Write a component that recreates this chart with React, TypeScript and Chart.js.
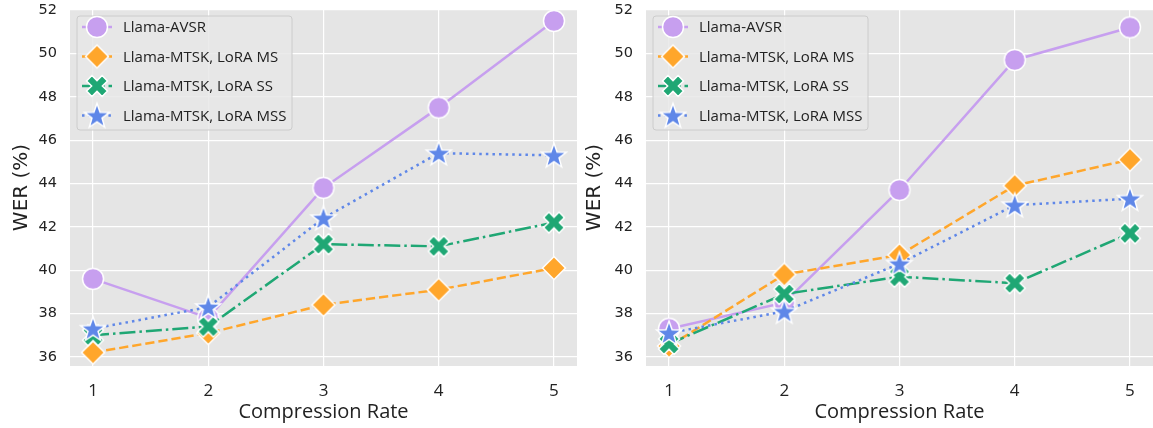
import React, { useEffect, useRef } from "react";
import { Chart, registerables } from "chart.js";
Chart.register(...registerables);

const compressionRates = [1, 2, 3, 4, 5];
const yTickValues = [36, 38, 40, 42, 44, 46, 48, 50, 52];
const seriesNames = [
  "Llama-AVSR",
  "Llama-MTSK, LoRA MS",
  "Llama-MTSK, LoRA SS",
  "Llama-MTSK, LoRA MSS",
];
const seriesColors = ["#c79fef", "#ffa62b", "#1fa774", "#5f87e8"];

const leftAVSR = [39.6, 37.8, 43.8, 47.5, 51.5];
const leftMS = [36.2, 37.1, 38.4, 39.1, 40.1];
const leftSS = [37.0, 37.4, 41.2, 41.1, 42.2];
const leftMSS = [37.3, 38.3, 42.4, 45.4, 45.3];

const rightAVSR = [37.3, 38.5, 43.7, 49.7, 51.2];
const rightMS = [36.5, 39.8, 40.7, 43.9, 45.1];
const rightSS = [36.6, 38.9, 39.7, 39.4, 41.7];
const rightMSS = [37.1, 38.1, 40.3, 43.0, 43.3];

const markerKinds = ["circle", "diamond", "x", "star"];
const dashes: number[][] = [[], [9.25, 4], [16, 4, 2.5, 4], [2.5, 4.1]];

const LABEL_FONT = "'Open Sans', 'DejaVu Sans', sans-serif";
const NUM_FONT = "'DejaVu Sans', sans-serif";

function makeMarker(kind: string, color: string): HTMLCanvasElement {
  const S = 30;
  const c = document.createElement("canvas");
  c.width = S;
  c.height = S;
  const ctx = c.getContext("2d")!;
  const cx = S / 2;
  const cy = S / 2;
  ctx.fillStyle = color;
  ctx.strokeStyle = "#ffffff";
  ctx.lineWidth = 1.5;
  ctx.lineJoin = "miter";
  ctx.beginPath();
  if (kind === "circle") {
    ctx.arc(cx, cy, 10.5, 0, Math.PI * 2);
  } else if (kind === "diamond") {
    const r = 11.5;
    ctx.moveTo(cx, cy - r);
    ctx.lineTo(cx + r, cy);
    ctx.lineTo(cx, cy + r);
    ctx.lineTo(cx - r, cy);
    ctx.closePath();
  } else if (kind === "x") {
    const a = 3.8;
    const L = 11;
    const pts = [
      [-a, -L], [a, -L], [a, -a], [L, -a], [L, a], [a, a],
      [a, L], [-a, L], [-a, a], [-L, a], [-L, -a], [-a, -a],
    ];
    const cs = Math.cos(Math.PI / 4);
    pts.forEach(([px, py], i) => {
      const rx = cx + (px * cs - py * cs);
      const ry = cy + (px * cs + py * cs);
      if (i === 0) ctx.moveTo(rx, ry);
      else ctx.lineTo(rx, ry);
    });
    ctx.closePath();
  } else {
    const R = 13;
    const r = 5.3;
    for (let i = 0; i < 10; i++) {
      const ang = -Math.PI / 2 + (i * Math.PI) / 5;
      const rad = i % 2 === 0 ? R : r;
      const px = cx + rad * Math.cos(ang);
      const py = cy + 1 + rad * Math.sin(ang);
      if (i === 0) ctx.moveTo(px, py);
      else ctx.lineTo(px, py);
    }
    ctx.closePath();
  }
  ctx.fill();
  ctx.stroke();
  return c;
}

function buildChart(
  canvas: HTMLCanvasElement,
  series: number[][],
  yAxisWidth: number,
  yTitlePad: number,
  rightPad: number
) {
  const markers = markerKinds.map((k, i) => makeMarker(k, seriesColors[i]));
  const datasets = series.map((vals, i) => ({
    label: seriesNames[i],
    data: compressionRates.map((x, j) => ({ x, y: vals[j] })),
    borderColor: seriesColors[i],
    backgroundColor: seriesColors[i],
    borderWidth: 2.5,
    borderDash: dashes[i],
    borderCapStyle: "butt" as const,
    pointStyle: markers[i],
    pointRadius: 11,
    tension: 0,
    clip: false,
    order: 4 - i,
  }));

  const bgPlugin = {
    id: "bg",
    beforeDraw(chart: any) {
      const { ctx, chartArea } = chart;
      ctx.save();
      ctx.fillStyle = "#e5e5e5";
      ctx.fillRect(
        chartArea.left,
        chartArea.top,
        chartArea.right - chartArea.left,
        chartArea.bottom - chartArea.top
      );
      ctx.restore();
    },
  };

  const legendPlugin = {
    id: "boxLegend",
    afterDatasetsDraw(chart: any) {
      const { ctx, chartArea } = chart;
      const x0 = chartArea.left + 7;
      const y0 = chartArea.top + 7;
      const w = 215;
      const h = 114;
      ctx.save();
      ctx.beginPath();
      const rr = 3;
      ctx.moveTo(x0 + rr, y0);
      ctx.lineTo(x0 + w - rr, y0);
      ctx.quadraticCurveTo(x0 + w, y0, x0 + w, y0 + rr);
      ctx.lineTo(x0 + w, y0 + h - rr);
      ctx.quadraticCurveTo(x0 + w, y0 + h, x0 + w - rr, y0 + h);
      ctx.lineTo(x0 + rr, y0 + h);
      ctx.quadraticCurveTo(x0, y0 + h, x0, y0 + h - rr);
      ctx.lineTo(x0, y0 + rr);
      ctx.quadraticCurveTo(x0, y0, x0 + rr, y0);
      ctx.closePath();
      ctx.fillStyle = "rgba(232,232,232,0.85)";
      ctx.fill();
      ctx.strokeStyle = "#cccccc";
      ctx.lineWidth = 1;
      ctx.stroke();
      seriesNames.forEach((name, i) => {
        const cy = y0 + 11 + i * 29.5;
        ctx.save();
        ctx.strokeStyle = seriesColors[i];
        ctx.lineWidth = 2.5;
        ctx.setLineDash(dashes[i]);
        ctx.beginPath();
        ctx.moveTo(x0 + 5, cy);
        ctx.lineTo(x0 + 35, cy);
        ctx.stroke();
        ctx.restore();
        const m = markers[i];
        ctx.drawImage(m, x0 + 20 - m.width / 2, cy - m.height / 2);
        ctx.fillStyle = "#222222";
        ctx.font = `15px ${LABEL_FONT}`;
        ctx.textBaseline = "middle";
        ctx.textAlign = "left";
        ctx.fillText(name, x0 + 46, cy + 1);
      });
      ctx.restore();
    },
  };

  return new Chart(canvas, {
    type: "line",
    data: { datasets },
    plugins: [bgPlugin, legendPlugin],
    options: {
      animation: false,
      responsive: false,
      maintainAspectRatio: false,
      layout: { autoPadding: false, padding: { top: 9, right: rightPad, left: 0, bottom: 0 } },
      plugins: { legend: { display: false }, tooltip: { enabled: false } },
      scales: {
        x: {
          type: "linear",
          min: 0.8,
          max: 5.2,
          afterBuildTicks: (s: any) => {
            s.ticks = compressionRates.map((v) => ({ value: v }));
          },
          afterFit: (s: any) => {
            s.height = 62;
            s.paddingLeft = 0;
            s.paddingRight = 0;
          },
          grid: { color: "#ffffff", lineWidth: 1.2, drawTicks: false },
          border: { display: false },
          ticks: {
            padding: 15,
            color: "#222222",
            font: { family: LABEL_FONT, size: 17 },
            callback: (v: any) => String(v),
          },
          title: {
            display: true,
            text: "Compression Rate",
            color: "#222222",
            font: { family: LABEL_FONT, size: 20 },
            padding: { top: 0, bottom: 4 },
          },
        },
        y: {
          type: "linear",
          min: 35.58,
          max: 52.05,
          afterBuildTicks: (s: any) => {
            s.ticks = yTickValues.map((v) => ({ value: v }));
          },
          afterFit: (s: any) => {
            s.width = yAxisWidth;
            s.paddingTop = 0;
            s.paddingBottom = 0;
          },
          grid: { color: "#ffffff", lineWidth: 1.2, drawTicks: false },
          border: { display: false },
          ticks: {
            padding: 13,
            color: "#222222",
            font: { family: NUM_FONT, size: 14.5 },
            callback: (v: any) => String(v),
          },
          title: {
            display: true,
            text: "WER (%)",
            color: "#222222",
            font: { family: NUM_FONT, size: 20 },
            padding: { top: yTitlePad, bottom: 0 },
          },
        },
      },
    },
  } as any);
}

export default function App() {
  const leftRef = useRef<HTMLCanvasElement>(null);
  const rightRef = useRef<HTMLCanvasElement>(null);

  useEffect(() => {
    const a = buildChart(leftRef.current!, [leftAVSR, leftMS, leftSS, leftMSS], 70, 10, 3);
    const b = buildChart(rightRef.current!, [rightAVSR, rightMS, rightSS, rightMSS], 66, 3, 0);
    return () => {
      a.destroy();
      b.destroy();
    };
  }, []);

  return (
    <div style={{ position: "fixed", left: 0, top: 0, width: 1153, height: 428, background: "#ffffff" }}>
      <canvas ref={leftRef} width={580} height={428} style={{ position: "absolute", left: 0, top: 0, width: 580, height: 428 }} />
      <canvas ref={rightRef} width={573} height={428} style={{ position: "absolute", left: 580, top: 0, width: 573, height: 428 }} />
    </div>
  );
}
